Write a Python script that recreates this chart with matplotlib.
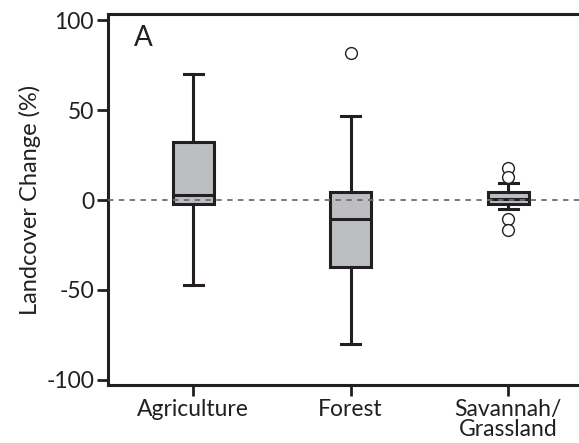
import matplotlib
matplotlib.use("Agg")
import matplotlib.pyplot as plt

# summary statistics per land cover class (%)
categories = ["Agriculture", "Forest", "Savannah/\nGrassland"]
medians = [3, -10.5, 0.5]
q1 = [-2, -37.5, -2.2]
q3 = [32.5, 4.3, 4.3]
whislo = [-47, -80, -5.2]
whishi = [70, 46.7, 9.4]
outliers = [[], [81.5], [18, 13, -10.5, -16.7]]

ink = "#231f20"
boxfill = "#bdbec2"

plt.rcParams["font.family"] = ["Lato", "DejaVu Sans"]

fig = plt.figure(figsize=(5.79, 4.43), dpi=100)
ax = fig.add_axes([0.1865, 0.131, 0.8135, 0.837])

stats = []
for i in range(len(categories)):
    stats.append({
        "med": medians[i], "q1": q1[i], "q3": q3[i],
        "whislo": whislo[i], "whishi": whishi[i],
        "fliers": outliers[i], "label": categories[i],
    })

ax.bxp(stats, positions=[1, 2, 3], widths=0.26, capwidths=0.12,
       patch_artist=True,
       boxprops=dict(facecolor=boxfill, edgecolor=ink, linewidth=2.2),
       medianprops=dict(color=ink, linewidth=2.2),
       whiskerprops=dict(color=ink, linewidth=2.2),
       capprops=dict(color=ink, linewidth=2.2),
       flierprops=dict(marker="o", markersize=8.5, markerfacecolor="white",
                       markeredgecolor=ink, markeredgewidth=1.0))

# zero reference line drawn over the boxes
ax.axhline(0, color="#6d6e70", linewidth=1.3, linestyle=(0, (3, 3)), zorder=5)

ax.set_xlim(0.46, 3.45)
ax.set_ylim(-102.8, 103.3)
ax.set_yticks([-100, -50, 0, 50, 100])
ax.set_yticklabels(["-100", "-50", "0", "50", "100"])
ax.set_xticks([1, 2, 3])
ax.set_xticklabels(categories, linespacing=0.95)

for side in ["left", "top", "bottom"]:
    ax.spines[side].set_linewidth(2.2)
    ax.spines[side].set_color(ink)
ax.spines["right"].set_visible(False)

ax.tick_params(axis="both", direction="out", length=8, width=2,
               color=ink, labelsize=16.5, labelcolor=ink, pad=2)
ax.set_ylabel("Landcover Change (%)", fontsize=17, color=ink, labelpad=4)

ax.text(0.055, 0.972, "A", transform=ax.transAxes, fontsize=20,
        color=ink, va="top", ha="left")

fig.savefig("out.png", dpi=100)
